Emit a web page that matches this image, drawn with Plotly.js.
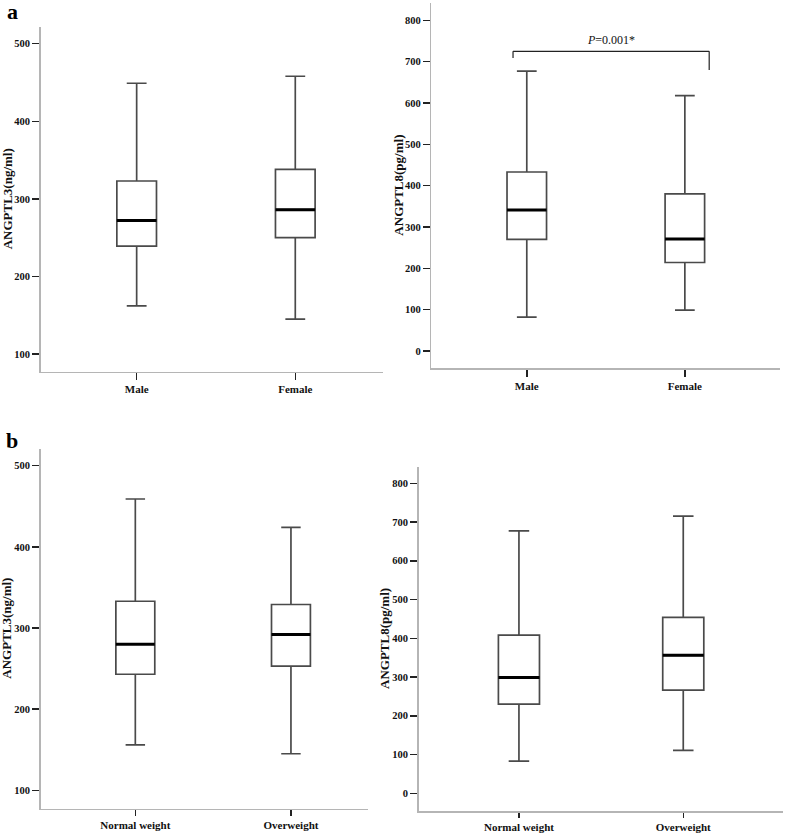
<!DOCTYPE html>
<html>
<head>
<meta charset="utf-8">
<script src="https://cdn.plot.ly/plotly-3.0.1.min.js"></script>
<style>html,body{margin:0;padding:0;background:#fff;}#chart{width:786px;height:834px;}</style>
</head>
<body>
<div id="chart"></div>
<script>
// ---- data ----
const sexCategories = ['Male', 'Female'];
const bmiCategories = ['Normal weight', 'Overweight'];

// (a) ANGPTL3 by sex (ng/ml)
const angptl3SexLower  = [162, 145];
const angptl3SexQ1     = [239, 250];
const angptl3SexMedian = [272, 286];
const angptl3SexQ3     = [323, 338];
const angptl3SexUpper  = [449, 458];

// (a) ANGPTL8 by sex (pg/ml)
const angptl8SexLower  = [82, 99];
const angptl8SexQ1     = [270, 214];
const angptl8SexMedian = [341, 271];
const angptl8SexQ3     = [433, 380];
const angptl8SexUpper  = [677, 618];

// (b) ANGPTL3 by BMI (ng/ml)
const angptl3BmiLower  = [156, 145];
const angptl3BmiQ1     = [243, 253];
const angptl3BmiMedian = [280, 292];
const angptl3BmiQ3     = [333, 329];
const angptl3BmiUpper  = [459, 424];

// (b) ANGPTL8 by BMI (pg/ml)
const angptl8BmiLower  = [83, 111];
const angptl8BmiQ1     = [230, 266];
const angptl8BmiMedian = [299, 356];
const angptl8BmiQ3     = [408, 454];
const angptl8BmiUpper  = [677, 715];

const ticksAngptl3 = [100, 200, 300, 400, 500];
const ticksAngptl8 = [0, 100, 200, 300, 400, 500, 600, 700, 800];
const pValueText = '<i>P</i>=0.001*';

// ---- helpers ----
const W = 786, H = 834;
const serif = 'Liberation Serif, Times New Roman, serif';
const BOXW = 0.25;

const panels = [
  {cats: sexCategories, lo: angptl3SexLower, q1: angptl3SexQ1, med: angptl3SexMedian, q3: angptl3SexQ3, hi: angptl3SexUpper,
   ticks: ticksAngptl3, title: 'ANGPTL3(ng/ml)',
   px: [40.7, 383], py: [27, 371.7], xr: [-0.605, 1.553], yr: [77.2, 521.5], titleX: 7, tlen: 7},
  {cats: sexCategories, lo: angptl8SexLower, q1: angptl8SexQ1, med: angptl8SexMedian, q3: angptl8SexQ3, hi: angptl8SexUpper,
   ticks: ticksAngptl8, title: 'ANGPTL8(pg/ml)',
   px: [431.3, 779.7], py: [3, 368.3], xr: [-0.604, 1.60], yr: [-42, 842], titleX: 399, tlen: 7},
  {cats: bmiCategories, lo: angptl3BmiLower, q1: angptl3BmiQ1, med: angptl3BmiMedian, q3: angptl3BmiQ3, hi: angptl3BmiUpper,
   ticks: ticksAngptl3, title: 'ANGPTL3(ng/ml)',
   px: [40.7, 368.3], py: [448.7, 808.7], xr: [-0.608, 1.497], yr: [77.3, 521], titleX: 7, tlen: 6},
  {cats: bmiCategories, lo: angptl8BmiLower, q1: angptl8BmiQ1, med: angptl8BmiMedian, q3: angptl8BmiQ3, hi: angptl8BmiUpper,
   ticks: ticksAngptl8, title: 'ANGPTL8(pg/ml)',
   px: [418.7, 783], py: [467, 811], xr: [-0.61, 1.607], yr: [-45.7, 842], titleX: 384, tlen: 5}
];

const data = [];
const layout = {
  width: W, height: H,
  margin: {l: 0, r: 0, t: 0, b: 0},
  paper_bgcolor: '#fff', plot_bgcolor: '#fff',
  showlegend: false,
  shapes: [], annotations: []
};

panels.forEach((p, k) => {
  const n = k + 1;
  const xa = 'x' + (n === 1 ? '' : n), ya = 'y' + (n === 1 ? '' : n);
  const xKey = 'xaxis' + (n === 1 ? '' : n), yKey = 'yaxis' + (n === 1 ? '' : n);
  data.push({
    type: 'box', xaxis: xa, yaxis: ya,
    x: p.cats, q1: p.q1, median: p.med, q3: p.q3, lowerfence: p.lo, upperfence: p.hi,
    width: BOXW, whiskerwidth: 0.5,
    fillcolor: '#ffffff',
    line: {color: '#4a4a4a', width: 1.7},
    hoverinfo: 'skip'
  });
  layout[xKey] = {
    domain: [p.px[0] / W, p.px[1] / W],
    anchor: ya, type: 'category', range: p.xr,
    showline: true, linecolor: '#b5b5b5', linewidth: 1.5,
    ticks: 'outside', ticklen: p.tlen, tickwidth: 1.5, tickcolor: '#222',
    showgrid: false, zeroline: false,
    tickfont: {family: serif, size: 11, color: '#111', weight: 'bold'}
  };
  layout[yKey] = {
    domain: [1 - p.py[1] / H, 1 - p.py[0] / H],
    anchor: xa, range: p.yr,
    tickmode: 'array', tickvals: p.ticks, ticktext: p.ticks.map(String),
    showline: true, linecolor: '#b5b5b5', linewidth: 1.5,
    ticks: 'outside', ticklen: 7, tickwidth: 1.5, tickcolor: '#222',
    showgrid: false, zeroline: false,
    tickfont: {family: serif, size: 10.5, color: '#111', weight: 'bold'}
  };
  // thick median bars from the median arrays
  p.med.forEach((m, i) => {
    layout.shapes.push({
      type: 'line', xref: xa, yref: ya,
      x0: i - BOXW / 2, x1: i + BOXW / 2, y0: m, y1: m,
      line: {color: '#000', width: 3}
    });
  });
  // y axis title
  layout.annotations.push({
    xref: 'paper', yref: 'paper',
    x: p.titleX / W, y: 1 - (p.py[0] + p.py[1]) / 2 / H,
    text: p.title, textangle: -90, showarrow: false,
    xanchor: 'center', yanchor: 'middle',
    font: {family: serif, size: 13, color: '#111', weight: 'bold'}
  });
});

// significance bracket for ANGPTL8 by sex
const bracketY = 725, bracketLeftEnd = 709, bracketRightEnd = 680;
const bracketX = [-0.087, 1.154];
layout.shapes.push(
  {type: 'line', xref: 'x2', yref: 'y2', x0: bracketX[0], x1: bracketX[1], y0: bracketY, y1: bracketY, line: {color: '#222', width: 1.2}},
  {type: 'line', xref: 'x2', yref: 'y2', x0: bracketX[0], x1: bracketX[0], y0: bracketY, y1: bracketLeftEnd, line: {color: '#222', width: 1.2}},
  {type: 'line', xref: 'x2', yref: 'y2', x0: bracketX[1], x1: bracketX[1], y0: bracketY, y1: bracketRightEnd, line: {color: '#222', width: 1.2}}
);
layout.annotations.push({
  xref: 'x2', yref: 'y2', x: (bracketX[0] + bracketX[1]) / 2, y: bracketY,
  text: pValueText, showarrow: false, yanchor: 'bottom', yshift: 2,
  font: {family: serif, size: 12, color: '#111'}
});

// panel letters
layout.annotations.push(
  {xref: 'paper', yref: 'paper', x: 12 / W, y: 1 - 11 / H, text: 'a', showarrow: false,
   xanchor: 'center', yanchor: 'middle', font: {family: serif, size: 22, color: '#000', weight: 'bold'}},
  {xref: 'paper', yref: 'paper', x: 12 / W, y: 1 - 440 / H, text: 'b', showarrow: false,
   xanchor: 'center', yanchor: 'middle', font: {family: serif, size: 22, color: '#000', weight: 'bold'}}
);

Plotly.newPlot('chart', data, layout, {staticPlot: true, displayModeBar: false});
</script>
</body>
</html>
